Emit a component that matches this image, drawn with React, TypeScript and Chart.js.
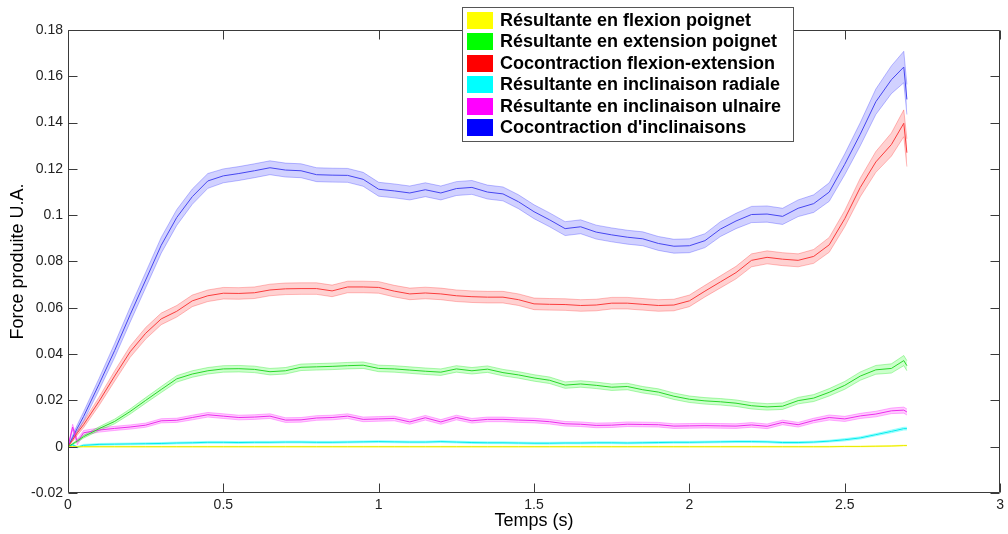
import React, { useEffect, useRef } from "react";
import { Chart, registerables } from "chart.js";
Chart.register(...registerables);

// time (s)
const TIME = [0, 0.015, 0.03, 0.05, 0.1, 0.15, 0.2, 0.25, 0.3, 0.35,
  0.4, 0.45, 0.5, 0.55, 0.6, 0.65, 0.7, 0.75, 0.8, 0.85,
  0.9, 0.95, 1.0, 1.05, 1.1, 1.15, 1.2, 1.25, 1.3, 1.35,
  1.4, 1.45, 1.5, 1.55, 1.6, 1.65, 1.7, 1.75, 1.8, 1.85,
  1.9, 1.95, 2.0, 2.05, 2.1, 2.15, 2.2, 2.25, 2.3, 2.35,
  2.4, 2.45, 2.5, 2.55, 2.6, 2.65, 2.69, 2.7];

// Résultante en flexion poignet (yellow)
const FLEX = [0, 0, 0, 0, 0, 0, 0, 0, 0, 0,
  0, 0, 0, 0, 0, 0, 0, 0, 0, 0,
  0, 0, 0, 0, 0, 0, 0, 0, 0, 0,
  0, 0, 0, 0, 0, 0, 0, 0, 0, 0,
  0, 0, 0, 0, 0, 0, 0, 0, 0, 0,
  0, 0, 0.0001, 0.0001, 0.0002, 0.0003, 0.0005, 0.0005];
const SD_FLEX = [0, 0.0002, 0.0002, 0.0002, 0.0002, 0.0002, 0.0002, 0.0002, 0.0002, 0.0002,
  0.0002, 0.0002, 0.0002, 0.0002, 0.0002, 0.0002, 0.0002, 0.0002, 0.0002, 0.0002,
  0.0002, 0.0002, 0.0002, 0.0002, 0.0002, 0.0002, 0.0002, 0.0002, 0.0002, 0.0002,
  0.0002, 0.0002, 0.0002, 0.0002, 0.0002, 0.0002, 0.0002, 0.0002, 0.0002, 0.0002,
  0.0002, 0.0002, 0.0002, 0.0002, 0.0002, 0.0002, 0.0002, 0.0002, 0.0002, 0.0002,
  0.0002, 0.0002, 0.0002, 0.0002, 0.0002, 0.0002, 0.0002, 0.0002];

// Résultante en extension poignet (green)
const EXT = [0, 0.0012, 0.0025, 0.0043, 0.0078, 0.0109, 0.0152, 0.02, 0.0247, 0.0293,
  0.0314, 0.0328, 0.0336, 0.0337, 0.0334, 0.0324, 0.0328, 0.0343, 0.0345, 0.0347,
  0.035, 0.0352, 0.0338, 0.0336, 0.0331, 0.0326, 0.0322, 0.0336, 0.0328, 0.0335,
  0.032, 0.031, 0.0297, 0.0287, 0.0266, 0.0271, 0.0265, 0.0257, 0.026, 0.0246,
  0.0236, 0.0218, 0.0205, 0.0198, 0.0194, 0.0188, 0.0177, 0.0172, 0.0175, 0.0199,
  0.021, 0.0235, 0.0265, 0.0305, 0.0332, 0.0338, 0.0372, 0.035];
const SD_EXT = [0, 0.0003, 0.0005, 0.0006, 0.0008, 0.001, 0.0011, 0.0012, 0.0013, 0.0014,
  0.0014, 0.0014, 0.0014, 0.0014, 0.0014, 0.0014, 0.0014, 0.0014, 0.0014, 0.0014,
  0.0014, 0.0014, 0.0014, 0.0014, 0.0014, 0.0014, 0.0014, 0.0014, 0.0014, 0.0014,
  0.0014, 0.0014, 0.0014, 0.0014, 0.0014, 0.0014, 0.0014, 0.0014, 0.0014, 0.0014,
  0.0014, 0.0014, 0.0014, 0.0014, 0.0014, 0.0014, 0.0014, 0.0014, 0.0014, 0.0014,
  0.0015, 0.0016, 0.0017, 0.0018, 0.0019, 0.002, 0.0022, 0.0022];

// Cocontraction flexion-extension (red)
const COFE = [0, 0.003, 0.006, 0.0095, 0.0196, 0.0305, 0.041, 0.049, 0.0552, 0.0585,
  0.063, 0.0652, 0.0663, 0.0662, 0.0665, 0.0677, 0.0682, 0.0683, 0.0683, 0.0673,
  0.069, 0.069, 0.0688, 0.0672, 0.066, 0.0664, 0.066, 0.0652, 0.0648, 0.0646,
  0.0646, 0.0635, 0.0617, 0.0615, 0.0614, 0.061, 0.0612, 0.062, 0.062, 0.0615,
  0.061, 0.0612, 0.063, 0.0672, 0.0712, 0.0752, 0.0805, 0.0818, 0.081, 0.0805,
  0.0822, 0.0872, 0.0985, 0.112, 0.123, 0.1305, 0.1397, 0.127];
const SD_COFE = [0, 0.0008, 0.001, 0.0013, 0.0018, 0.0022, 0.0024, 0.0025, 0.0025, 0.0025,
  0.0025, 0.0025, 0.0025, 0.0025, 0.0025, 0.0025, 0.0025, 0.0025, 0.0025, 0.0025,
  0.0025, 0.0025, 0.0025, 0.0025, 0.0025, 0.0025, 0.0025, 0.0025, 0.0025, 0.0025,
  0.0025, 0.0025, 0.0025, 0.0025, 0.0025, 0.0025, 0.0025, 0.0025, 0.0025, 0.0025,
  0.0025, 0.0025, 0.0025, 0.0025, 0.0026, 0.0027, 0.0028, 0.0028, 0.0028, 0.0028,
  0.003, 0.0032, 0.0035, 0.004, 0.0045, 0.005, 0.0058, 0.006];

// Résultante en inclinaison radiale (cyan)
const RAD = [0, 0.0008, -0.0002, 0.0006, 0.001, 0.0011, 0.0012, 0.0013, 0.0014, 0.0016,
  0.0017, 0.0019, 0.0019, 0.0018, 0.0019, 0.0019, 0.002, 0.002, 0.0019, 0.0019,
  0.002, 0.0021, 0.0022, 0.0021, 0.002, 0.002, 0.0022, 0.002, 0.0018, 0.0017,
  0.0017, 0.0016, 0.0015, 0.0015, 0.0016, 0.0016, 0.0017, 0.0017, 0.0016, 0.0017,
  0.0018, 0.0019, 0.0019, 0.002, 0.0021, 0.0022, 0.0022, 0.0021, 0.0018, 0.0018,
  0.002, 0.0024, 0.003, 0.0038, 0.0052, 0.0066, 0.0078, 0.0078];
const SD_RAD = [0, 0.0003, 0.0003, 0.0004, 0.0004, 0.0004, 0.0004, 0.0004, 0.0004, 0.0004,
  0.0004, 0.0004, 0.0004, 0.0004, 0.0004, 0.0004, 0.0004, 0.0004, 0.0004, 0.0004,
  0.0004, 0.0004, 0.0004, 0.0004, 0.0004, 0.0004, 0.0004, 0.0004, 0.0004, 0.0004,
  0.0004, 0.0004, 0.0004, 0.0004, 0.0004, 0.0004, 0.0004, 0.0004, 0.0004, 0.0004,
  0.0004, 0.0004, 0.0004, 0.0004, 0.0004, 0.0004, 0.0004, 0.0004, 0.0004, 0.0004,
  0.0004, 0.0004, 0.0005, 0.0005, 0.0005, 0.0006, 0.0006, 0.0006];

// Résultante en inclinaison ulnaire (magenta)
const ULN = [0, 0.0085, 0.002, 0.006, 0.0072, 0.0079, 0.0085, 0.0093, 0.0112, 0.0114,
  0.0126, 0.0138, 0.0132, 0.0126, 0.0128, 0.0132, 0.0115, 0.0116, 0.0124, 0.0126,
  0.0132, 0.0118, 0.012, 0.0122, 0.0107, 0.0125, 0.0107, 0.0126, 0.0112, 0.0118,
  0.0118, 0.0115, 0.0113, 0.0108, 0.0099, 0.0097, 0.0092, 0.0093, 0.0097, 0.0096,
  0.0095, 0.0089, 0.009, 0.0091, 0.009, 0.0089, 0.0094, 0.0088, 0.0105, 0.0095,
  0.0113, 0.0126, 0.012, 0.0133, 0.0141, 0.0155, 0.0158, 0.015];
const SD_ULN = [0, 0.0012, 0.0012, 0.001, 0.0009, 0.0009, 0.0009, 0.0009, 0.0009, 0.0009,
  0.001, 0.001, 0.001, 0.001, 0.001, 0.001, 0.001, 0.001, 0.001, 0.001,
  0.001, 0.001, 0.001, 0.001, 0.001, 0.001, 0.001, 0.001, 0.001, 0.001,
  0.001, 0.001, 0.001, 0.001, 0.001, 0.001, 0.001, 0.001, 0.001, 0.001,
  0.001, 0.001, 0.001, 0.001, 0.001, 0.001, 0.001, 0.001, 0.001, 0.001,
  0.001, 0.0011, 0.0011, 0.0011, 0.0012, 0.0012, 0.0013, 0.0013];

// Cocontraction d'inclinaisons (blue)
const COINC = [0, 0.004, 0.008, 0.013, 0.027, 0.0415, 0.057, 0.072, 0.087, 0.099,
  0.108, 0.1148, 0.117, 0.118, 0.1192, 0.1205, 0.1195, 0.1192, 0.1175, 0.1173,
  0.1172, 0.1155, 0.1112, 0.1105, 0.1096, 0.111, 0.1096, 0.1115, 0.112, 0.11,
  0.1092, 0.1058, 0.1015, 0.098, 0.0942, 0.095, 0.0927, 0.0915, 0.0905, 0.0898,
  0.0878, 0.0866, 0.0868, 0.089, 0.094, 0.0975, 0.1003, 0.1005, 0.0995, 0.103,
  0.105, 0.11, 0.122, 0.135, 0.149, 0.1585, 0.164, 0.15];
const SD_COINC = [0, 0.001, 0.0015, 0.002, 0.0025, 0.003, 0.0032, 0.0033, 0.0034, 0.0034,
  0.0033, 0.0032, 0.003, 0.003, 0.003, 0.003, 0.003, 0.003, 0.003, 0.003,
  0.003, 0.003, 0.003, 0.003, 0.003, 0.003, 0.003, 0.003, 0.003, 0.003,
  0.003, 0.003, 0.003, 0.003, 0.003, 0.003, 0.003, 0.003, 0.003, 0.003,
  0.003, 0.003, 0.003, 0.003, 0.0032, 0.0033, 0.0035, 0.0035, 0.0035, 0.0036,
  0.0038, 0.004, 0.0045, 0.005, 0.0055, 0.006, 0.0068, 0.0065];

const X_TICKS = [0, 0.5, 1, 1.5, 2, 2.5, 3];
const Y_TICKS = [-0.02, 0, 0.02, 0.04, 0.06, 0.08, 0.1, 0.12, 0.14, 0.16, 0.18];
const LABELS = [
  "Résultante en flexion poignet",
  "Résultante en extension poignet",
  "Cocontraction flexion-extension",
  "Résultante en inclinaison radiale",
  "Résultante en inclinaison ulnaire",
  "Cocontraction d'inclinaisons",
];
const X_TITLE = "Temps (s)";
const Y_TITLE = "Force produite U.A.";

const SERIES = [
  { mean: FLEX, sd: SD_FLEX, line: "rgb(235,235,0)", band: "rgba(255,255,0,0.25)", edge: "rgba(255,255,0,0.35)", swatch: "#ffff00" },
  { mean: EXT, sd: SD_EXT, line: "rgb(40,215,40)", band: "rgba(0,255,0,0.2)", edge: "rgba(0,230,0,0.3)", swatch: "#00ff00" },
  { mean: COFE, sd: SD_COFE, line: "rgb(250,60,60)", band: "rgba(255,0,0,0.18)", edge: "rgba(255,0,0,0.25)", swatch: "#ff0000" },
  { mean: RAD, sd: SD_RAD, line: "rgb(0,235,235)", band: "rgba(0,255,255,0.25)", edge: "rgba(0,255,255,0.35)", swatch: "#00ffff" },
  { mean: ULN, sd: SD_ULN, line: "rgb(235,45,235)", band: "rgba(255,0,255,0.2)", edge: "rgba(255,0,255,0.3)", swatch: "#ff00ff" },
  { mean: COINC, sd: SD_COINC, line: "rgb(70,70,240)", band: "rgba(0,0,255,0.18)", edge: "rgba(0,0,255,0.25)", swatch: "#0000ff" },
];

const FONT = "'Liberation Sans', Arial, sans-serif";

const framePlugin = {
  id: "frame",
  afterDraw(chart: any) {
    const { ctx, chartArea: a, scales } = chart;
    const L = Math.round(a.left) + 0.5;
    const R = Math.round(a.right) - 0.5;
    const T = Math.round(a.top) + 0.5;
    const B = Math.round(a.bottom) - 0.5;
    const TL = 9;
    ctx.save();
    ctx.strokeStyle = "#3a3a3a";
    ctx.lineWidth = 1;
    ctx.beginPath();
    ctx.rect(L, T, R - L, B - T);
    for (const v of X_TICKS) {
      const p = Math.round(scales.x.getPixelForValue(v)) + 0.5;
      ctx.moveTo(p, B);
      ctx.lineTo(p, B - TL);
      ctx.moveTo(p, T);
      ctx.lineTo(p, T + TL);
    }
    for (const v of Y_TICKS) {
      const p = Math.round(scales.y.getPixelForValue(v)) + 0.5;
      ctx.moveTo(L, p);
      ctx.lineTo(L + TL, p);
      ctx.moveTo(R, p);
      ctx.lineTo(R - TL, p);
    }
    ctx.stroke();

    // legend box
    const bx = 462.5, by = 7.5, bw = 331, bh = 134;
    ctx.fillStyle = "#ffffff";
    ctx.fillRect(bx, by, bw, bh);
    ctx.strokeStyle = "#555555";
    ctx.strokeRect(bx, by, bw, bh);
    ctx.font = `bold 18px ${FONT}`;
    ctx.textBaseline = "middle";
    ctx.textAlign = "left";
    SERIES.forEach((s, i) => {
      const cy = 20 + i * 21.5;
      ctx.fillStyle = s.swatch;
      ctx.fillRect(467, Math.round(cy - 8.5), 26, 17);
      ctx.fillStyle = "#000000";
      ctx.fillText(LABELS[i], 500, cy + 1);
    });
    ctx.restore();
  },
};

export default function App() {
  const ref = useRef<HTMLCanvasElement>(null);
  useEffect(() => {
    document.body.style.margin = "0";
    const datasets: any[] = [];
    SERIES.forEach((s, i) => {
      datasets.push({
        label: LABELS[i] + " -",
        data: TIME.map((t, k) => ({ x: t, y: s.mean[k] - s.sd[k] })),
        borderColor: s.edge,
        borderWidth: 1,
        pointRadius: 0,
        fill: false,
        order: 2,
      });
      datasets.push({
        label: LABELS[i] + " +",
        data: TIME.map((t, k) => ({ x: t, y: s.mean[k] + s.sd[k] })),
        borderColor: s.edge,
        backgroundColor: s.band,
        borderWidth: 1,
        pointRadius: 0,
        fill: "-1",
        order: 2,
      });
      datasets.push({
        label: LABELS[i],
        data: TIME.map((t, k) => ({ x: t, y: s.mean[k] })),
        borderColor: s.line,
        borderWidth: 1,
        pointRadius: 0,
        fill: false,
        order: 1,
      });
    });
    const chart = new Chart(ref.current!, {
      type: "line",
      data: { datasets },
      plugins: [framePlugin],
      options: {
        animation: false,
        responsive: false,
        layout: { padding: { top: 30, right: 4, left: 0, bottom: 0 } },
        plugins: { legend: { display: false }, tooltip: { enabled: false } },
        elements: { line: { tension: 0 } },
        scales: {
          x: {
            type: "linear",
            min: 0,
            max: 3,
            afterBuildTicks: (s: any) => { s.ticks = X_TICKS.map((v) => ({ value: v })); },
            afterFit: (s: any) => { s.height = 41; },
            grid: { display: false, drawTicks: false },
            border: { display: false },
            ticks: { color: "#222", font: { family: FONT, size: 14 }, padding: 4, maxRotation: 0, autoSkip: false, callback: (v: any) => String(v) },
            title: { display: true, text: X_TITLE, color: "#000", font: { family: FONT, size: 18 }, padding: { top: 0, bottom: 2 } },
          },
          y: {
            type: "linear",
            min: -0.02,
            max: 0.18,
            afterBuildTicks: (s: any) => { s.ticks = Y_TICKS.map((v) => ({ value: v })); },
            afterFit: (s: any) => { s.width = 68; },
            grid: { display: false, drawTicks: false },
            border: { display: false },
            ticks: { color: "#222", font: { family: FONT, size: 14 }, padding: 5, autoSkip: false, callback: (v: any) => String(v) },
            title: { display: true, text: Y_TITLE, color: "#000", font: { family: FONT, size: 18 }, padding: { top: 7, bottom: 0 } },
          },
        },
      } as any,
    });
    return () => chart.destroy();
  }, []);
  return <canvas ref={ref} width={1008} height={534} style={{ display: "block" }} />;
}
